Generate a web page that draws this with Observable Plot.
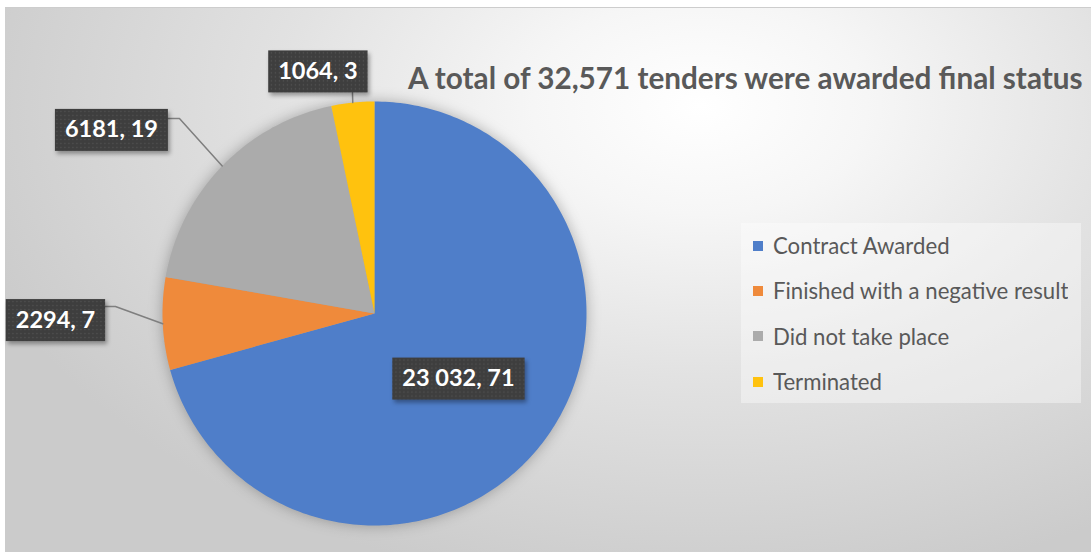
<!DOCTYPE html>
<html>
<head>
<meta charset="utf-8">
<script src="https://cdn.jsdelivr.net/npm/d3@7"></script>
<script src="https://cdn.jsdelivr.net/npm/@observablehq/plot@0.6"></script>
<style>
  body { margin: 0; background: #ffffff; }
  #wrap { position: relative; width: 1091px; height: 552px; overflow: hidden; background: #ffffff; }
  #bg {
    position: absolute; left: 5px; top: 7px; width: 1086px; height: 545px;
    border-top: 1px solid #cdcdcd;
    background: radial-gradient(ellipse 70% 90% at 64% 18%, #ffffff 0%, #f6f6f6 22%, #e2e2e2 55%, #cbcbcb 100%);
  }
  #chart { position: absolute; left: 0; top: 0; }
  #overlay { position: absolute; left: 0; top: 0; pointer-events: none; }
  #legend {
    position: absolute; left: 741px; top: 223px; width: 340px; height: 180px;
    background: rgba(255,255,255,0.38);
  }
  #legend .lg-swatches { margin: 0; font-family: Lato, sans-serif; color: #595959; }
  #legend .lg-swatch { height: 45.3px; padding: 0 0 0 12px; margin: 0; display: flex; align-items: center; }
  #legend .lg-swatch > svg { margin-right: 10px; }
</style>
</head>
<body>
<div id="wrap">
  <div id="bg"></div>
  <div id="chart"></div>
  <div id="legend"></div>
  <svg id="overlay" width="1091" height="552"></svg>
</div>
<script>
// ---- data ----
const categories = ["Contract Awarded", "Finished with a negative result", "Did not take place", "Terminated"];
const values = [23032, 2294, 6181, 1064];
const valueLabels = ["23 032", "2294", "6181", "1064"];
const titleText = "A total of 32,571 tenders were awarded final status";

// ---- styles / layout (kept separate from data) ----
const colors = ["#4f7ec9", "#ef8a3b", "#ababab", "#ffc20e"];
// label box centres and leader elbows in pie-radius units (y down)
const labelPos = [
  {x: 0.396, y: 0.307, leader: null},
  {x: -1.505, y: 0.031, leader: [[-1.222, -0.033], [-1.278, -0.033]]},
  {x: -1.241, y: -0.866, leader: [[-0.920, -0.920], [-0.981, -0.920]]},
  {x: -0.267, y: -1.142, leader: [[-0.104, -1.043]]}
];

const total = d3.sum(values);
const arcs = d3.pie().sort(null).value(d => d)(values);
const pt = (a, r = 1) => [r * Math.sin(a), -r * Math.cos(a)];

const slices = arcs.map((a, i) => {
  const n = Math.max(2, Math.ceil((a.endAngle - a.startAngle) / (Math.PI / 180)));
  const ring = [[0, 0]];
  for (let k = 0; k <= n; ++k) ring.push(pt(a.startAngle + (a.endAngle - a.startAngle) * k / n));
  ring.push([0, 0]);
  return {type: "Feature", properties: {category: categories[i]}, geometry: {type: "Polygon", coordinates: [ring]}};
});

const leaders = arcs.map((a, i) => {
  if (!labelPos[i].leader) return null;
  const mid = (a.startAngle + a.endAngle) / 2;
  return {type: "Feature", properties: {}, geometry: {type: "LineString", coordinates: [pt(mid), ...labelPos[i].leader]}};
}).filter(d => d);

const labelData = values.map((v, i) => ({
  x: labelPos[i].x, y: labelPos[i].y,
  text: `${valueLabels[i]}, ${Math.round(v / total * 100)}`
}));

const chart = Plot.plot({
  width: 1091, height: 552,
  marginLeft: 162, marginRight: 505, marginTop: 101, marginBottom: 27,
  projection: {type: "identity", domain: {type: "MultiPoint", coordinates: [[-1, -1], [1, 1]]}, clip: false},
  color: {domain: categories, range: colors},
  style: {background: "transparent", overflow: "visible"},
  marks: [
    Plot.geo(slices, {fill: d => d.properties.category, stroke: "none"}),
    Plot.geo(leaders, {stroke: "#7f7f7f", strokeWidth: 1.5, fill: "none"}),
    Plot.text(labelData, {x: "x", y: "y", text: "text", fill: "white", fontSize: 23.5, fontWeight: "bold", fontFamily: "Lato"})
  ]
});
document.getElementById("chart").appendChild(chart);

const ns = "http://www.w3.org/2000/svg";
// pattern for label boxes
const defs = document.createElementNS(ns, "defs");
const pat = document.createElementNS(ns, "pattern");
pat.setAttribute("id", "dots");
pat.setAttribute("width", 4);
pat.setAttribute("height", 4);
pat.setAttribute("patternUnits", "userSpaceOnUse");
const pr = document.createElementNS(ns, "rect");
pr.setAttribute("width", 4); pr.setAttribute("height", 4); pr.setAttribute("fill", "#3e3e3e");
const pc = document.createElementNS(ns, "circle");
pc.setAttribute("cx", 1.5); pc.setAttribute("cy", 1.5); pc.setAttribute("r", 0.7); pc.setAttribute("fill", "#555555");
pat.appendChild(pr); pat.appendChild(pc); defs.appendChild(pat);
chart.insertBefore(defs, chart.firstChild);

const geoGroups = chart.querySelectorAll('g[aria-label="geo"]');
if (geoGroups[0]) geoGroups[0].style.filter = "drop-shadow(0px 0px 7px rgba(0,0,0,0.28))";

const labelG = chart.querySelector('g[aria-label="text"]');
if (labelG) {
  Array.from(labelG.querySelectorAll("text")).forEach(t => {
    const b = t.getBBox();
    const tr = t.getAttribute("transform");
    const cy = tr ? 0 : (+t.getAttribute("y") || 0);
    const r = document.createElementNS(ns, "rect");
    r.setAttribute("x", b.x - 10);
    r.setAttribute("width", b.width + 20);
    r.setAttribute("y", cy - 21);
    r.setAttribute("height", 42);
    r.setAttribute("fill", "url(#dots)");
    r.style.filter = "drop-shadow(2px 3px 2px rgba(0,0,0,0.35))";
    if (tr) r.setAttribute("transform", tr);
    t.parentNode.insertBefore(r, t);
  });
}

// fit a text to a target width
function fitSize(text, weight, target) {
  const ctx = document.createElement("canvas").getContext("2d");
  ctx.font = `${weight} 100px Lato`;
  return 100 * target / ctx.measureText(text).width;
}

// title
const overlay = document.getElementById("overlay");
const title = document.createElementNS(ns, "text");
title.setAttribute("x", 408);
title.setAttribute("y", 89);
title.setAttribute("fill", "#595959");
title.setAttribute("font-family", "Lato");
title.setAttribute("font-weight", "bold");
title.setAttribute("font-size", fitSize(titleText, "bold", 677).toFixed(2));
title.textContent = titleText;
overlay.appendChild(title);

// legend
const legendSize = fitSize(categories[1], "normal", 296);
const legend = chart.legend("color", {columns: 1, swatchSize: 10, className: "lg", style: {fontSize: legendSize.toFixed(2) + "px"}});
document.getElementById("legend").appendChild(legend);
</script>
</body>
</html>
